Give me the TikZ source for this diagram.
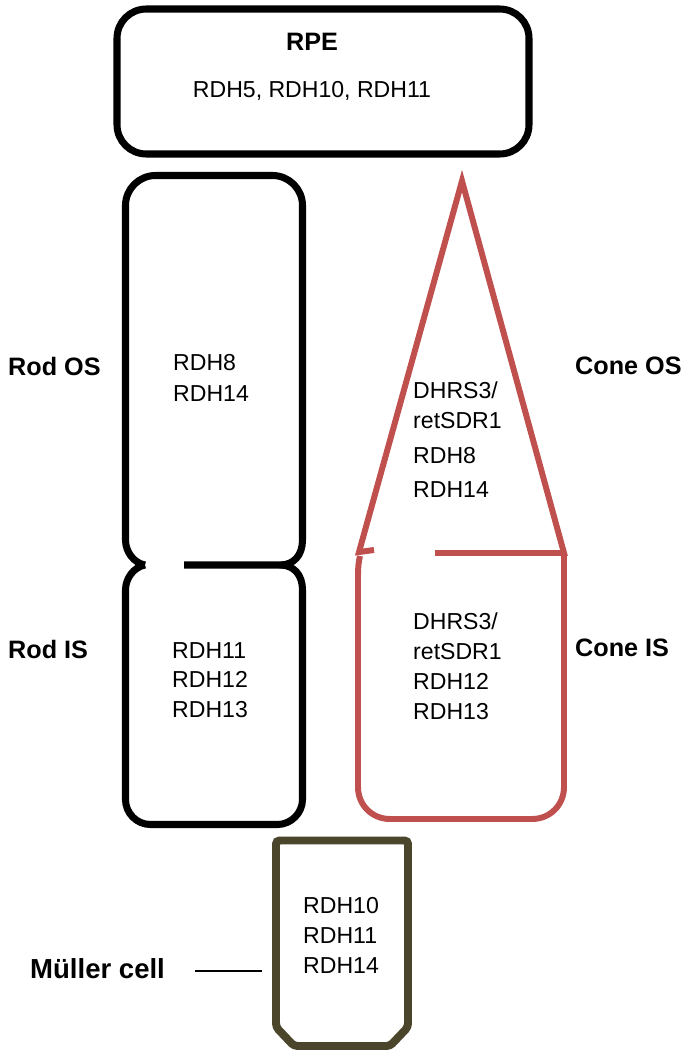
\documentclass[tikz,border=0pt]{standalone}
\usepackage{fontspec}
\setmainfont{Liberation Sans}
\usetikzlibrary{positioning}
\definecolor{conered}{HTML}{C0504D}
\definecolor{mullerbrown}{HTML}{4B452C}
\begin{document}
\begin{tikzpicture}[x=0.03cm, y=-0.03cm]

        \tikzstyle{outline} = [line width=6pt, line join=round]
        \tikzstyle{coneline} = [line width=5.1pt, color=conered, line join=miter]
        \tikzstyle{mullerline} = [line width=6.8pt, color=mullerbrown]
        \tikzstyle{txt} = [inner sep=0pt, font=\fontsize{19.7}{25.5}\selectfont, align=left, anchor=north west]
        \tikzstyle{lbl} = [inner sep=0pt, font=\fontsize{21.5}{25}\selectfont\bfseries, anchor=west]

        \useasboundingbox (0,0) rectangle (686,1059);

        % RPE
        \draw [outline, rounded corners=25pt] (117,9) rectangle (529,154);
        \node [lbl, anchor=center] (rpe) at (312,42) {RPE};
        \node [txt, anchor=center] (rpetxt) at (312,91) {RDH5, RDH10, RDH11};

        % rod
        \draw [outline] (145,565) .. controls (134,563) and (125.5,552) .. (125.5,540) -- (125.5,205.5)
            .. controls (125.5,189) and (139,175.5) .. (155.5,175.5) -- (272.5,175.5)
            .. controls (289,175.5) and (302.5,189) .. (302.5,205.5) -- (302.5,540)
            .. controls (302.5,555) and (294,565) .. (280,565) -- (184,565);
        \draw [outline] (145,565) .. controls (134,567) and (125.5,578) .. (125.5,590) -- (125.5,799.5)
            .. controls (125.5,813) and (136.5,824.5) .. (150.5,824.5) -- (277.5,824.5)
            .. controls (291,824.5) and (302.5,813) .. (302.5,799.5) -- (302.5,590)
            .. controls (302.5,575) and (294,565) .. (280,565);
        \node [txt] (rodostxt) at (173,354) {RDH8\\[1.5pt]RDH14};
        \node [txt] (rodistxt) at (172,642) {RDH11\\RDH12\\RDH13};

        % cone
        \draw [coneline] (374,550) -- (359,552) -- (462,181) -- (564,553) -- (435,553);
        \draw [coneline] (360,556) .. controls (358.5,562) and (358,568) .. (358,575) -- (358,787)
            .. controls (358,805) and (372,819) .. (390,819) -- (532,819)
            .. controls (550,819) and (564,805) .. (564,787) -- (564,553);
        \node [txt] (coneostxt) at (413,382) {DHRS3/\\retSDR1\\[4.5pt]RDH8\\[3.5pt]RDH14};
        \node [txt] (coneistxt) at (413,613) {DHRS3/\\retSDR1\\RDH12\\RDH13};

        % Muller cell
        \draw [mullerline, rounded corners=3pt] (276,1027) -- (276,840.5) -- (408,840.5) -- (408,1027) -- (390,1046) -- (294,1046) -- cycle;
        \node [txt] (mullertxt) at (303,897) {RDH10\\RDH11\\RDH14};

        % labels
        \node [lbl] (rodos) at (8,366) {Rod OS};
        \node [lbl] (rodis) at (8,649) {Rod IS};
        \node [lbl] (coneos) at (575,366) {Cone OS};
        \node [lbl] (coneis) at (575,648) {Cone IS};
        \node [lbl, font=\fontsize{23.5}{27}\selectfont\bfseries] (muller) at (30,969) {Müller cell};

        \coordinate (mullerfoot) at (195,971);
        \coordinate (mullertip) at (262,971);
        \draw [line width=1pt] (mullerfoot) -- (mullertip);

    \end{tikzpicture}
\end{document}
